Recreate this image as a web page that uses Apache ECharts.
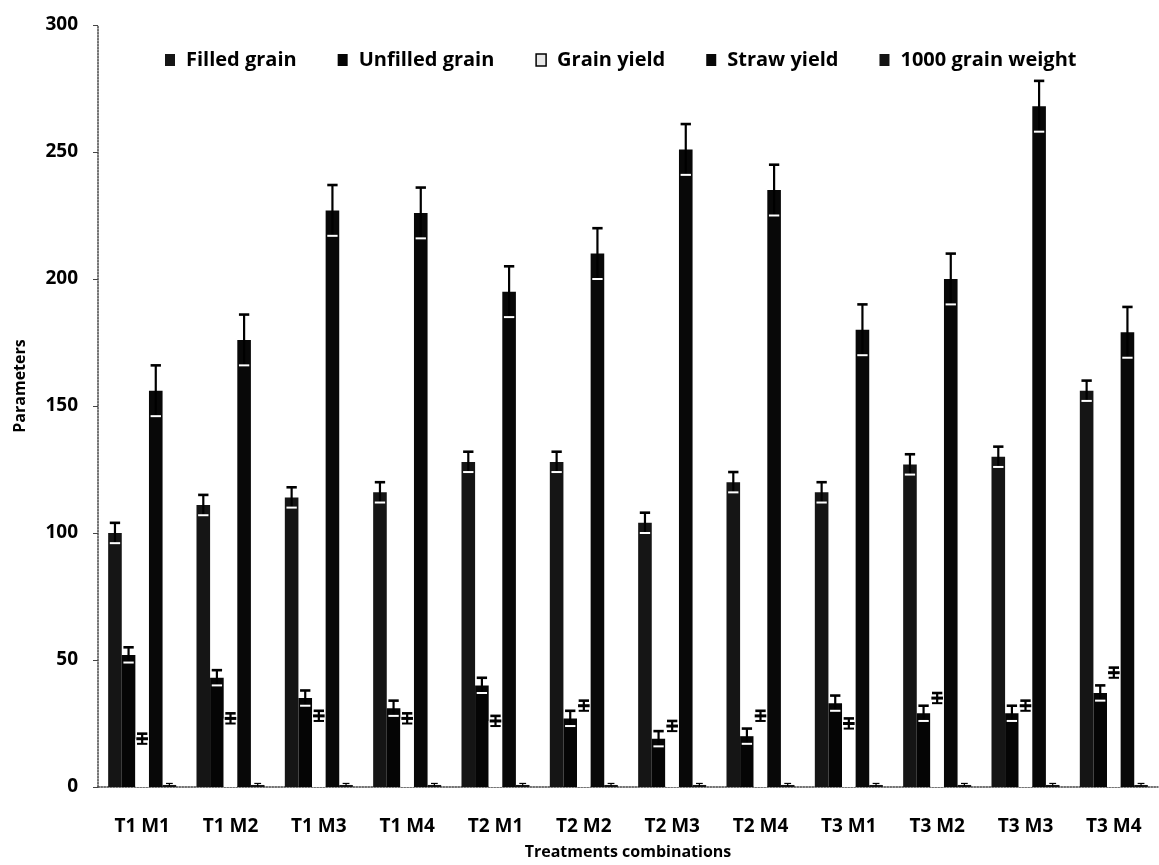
<!DOCTYPE html>
<html>
<head>
<meta charset="utf-8">
<script src="https://cdn.jsdelivr.net/npm/echarts@6/dist/echarts.min.js"></script>
<style>
html,body{margin:0;padding:0;background:#fff;}
#chart{width:1159px;height:865px;}
</style>
</head>
<body>
<div id="chart"></div>
<script>
const categories = ['T1 M1','T1 M2','T1 M3','T1 M4','T2 M1','T2 M2','T2 M3','T2 M4','T3 M1','T3 M2','T3 M3','T3 M4'];
const seriesNames = ['Filled grain','Unfilled grain','Grain yield','Straw yield','1000 grain weight'];
const filledGrain   = [100, 111, 114, 116, 128, 128, 104, 120, 116, 127, 130, 156];
const unfilledGrain = [52, 43, 35, 31, 40, 27, 19, 20, 33, 29, 29, 37];
const grainYield    = [19, 27, 28, 27, 26, 32, 24, 28, 25, 35, 32, 45];
const strawYield    = [156, 176, 227, 226, 195, 210, 251, 235, 180, 200, 268, 179];
const grainWeight   = [0.8, 0.8, 0.8, 0.8, 0.8, 0.8, 0.8, 0.8, 0.8, 0.8, 0.8, 0.8];
const filledErr   = [4, 4, 4, 4, 4, 4, 4, 4, 4, 4, 4, 4];
const unfilledErr = [3, 3, 3, 3, 3, 3, 3, 3, 3, 3, 3, 3];
const yieldErr    = [2, 2, 2, 2, 2, 2, 2, 2, 2, 2, 2, 2];
const strawErr    = [10, 10, 10, 10, 10, 10, 10, 10, 10, 10, 10, 10];
const weightErr   = [0.6, 0.6, 0.6, 0.6, 0.6, 0.6, 0.6, 0.6, 0.6, 0.6, 0.6, 0.6];
const yTicks = [0, 50, 100, 150, 200, 250, 300];

const values = [filledGrain, unfilledGrain, grainYield, strawYield, grainWeight];
const errors = [filledErr, unfilledErr, yieldErr, strawErr, weightErr];
const colors = ['#151515', '#050505', '#ffffff', '#080808', '#151515'];
const GAP = 0.23;
const N = values.length;
const FONT = 'Open Sans';

function errRender(si) {
  return function (params, api) {
    const ci = api.value(0), v = api.value(1), e = api.value(2);
    const band = api.size([1, 0])[0];
    const groupW = band * (1 - GAP);
    const bw = groupW / N;
    const center = api.coord([ci, v])[0];
    const x = center - groupW / 2 + bw * (si + 0.5);
    const yv = api.coord([ci, v])[1];
    const yt = api.coord([ci, v + e])[1];
    const yb = api.coord([ci, Math.max(v - e, 0)])[1];
    const hw = si === 4 ? bw * 0.25 : bw * 0.38;
    const lw = si === 4 ? 1.2 : 2.2;
    const ch = [
      { type: 'line', shape: { x1: x, y1: yt, x2: x, y2: yb }, style: { stroke: '#000', lineWidth: lw } },
      { type: 'line', shape: { x1: x - hw, y1: yt, x2: x + hw, y2: yt }, style: { stroke: '#000', lineWidth: si === 4 ? 1.2 : 2.6 } }
    ];
    if (si !== 4) {
      ch.push({ type: 'line', shape: { x1: x - hw, y1: yb, x2: x + hw, y2: yb }, style: { stroke: si === 2 ? '#000' : '#fff', lineWidth: 2 } });
    }
    if (si === 2) {
      ch.push({ type: 'line', shape: { x1: x - bw / 2 + 1, y1: yv, x2: x + bw / 2 - 1, y2: yv }, style: { stroke: '#000', lineWidth: 3 } });
    }
    return { type: 'group', children: ch };
  };
}

const series = [];
values.forEach((arr, i) => {
  series.push({
    name: seriesNames[i],
    type: 'bar',
    data: arr,
    barGap: '0%',
    barCategoryGap: (GAP * 100) + '%',
    itemStyle: { color: colors[i] },
    emphasis: { disabled: true },
    z: 2
  });
});
values.forEach((arr, i) => {
  series.push({
    type: 'custom',
    name: seriesNames[i] + ' err',
    renderItem: errRender(i),
    data: arr.map((v, k) => [k, v, errors[i][k]]),
    z: 5,
    silent: true,
    tooltip: { show: false }
  });
});

const chart = echarts.init(document.getElementById('chart'), null, { renderer: 'canvas' });
chart.setOption({
  animation: false,
  backgroundColor: '#fff',
  textStyle: { fontFamily: FONT, fontWeight: 'bold', color: '#000' },
  legend: {
    data: seriesNames.map((n, i) => i === 2
      ? { name: n, itemStyle: { color: '#e8e8e8', borderColor: '#000', borderWidth: 1.5 } }
      : { name: n }),
    left: 160,
    top: 45,
    icon: 'rect',
    itemWidth: 10,
    itemHeight: 12,
    itemGap: 41,
    textStyle: { fontFamily: FONT, fontWeight: 'bold', fontSize: 20, color: '#000', padding: [0, 0, 0, 6] }
  },
  grid: { left: 98, right: 1, top: 25, bottom: 78, containLabel: false },
  xAxis: {
    type: 'category',
    data: categories,
    name: 'Treatments combinations',
    nameLocation: 'middle',
    nameGap: 57,
    nameTextStyle: { fontFamily: FONT, fontWeight: 'bold', fontSize: 16, color: '#000' },
    axisLine: { show: true, lineStyle: { color: '#444', type: 'dotted', width: 1.5 } },
    axisTick: { show: false },
    axisLabel: { fontFamily: FONT, fontWeight: 'bold', fontSize: 19, color: '#000', margin: 30, interval: 0 }
  },
  yAxis: {
    type: 'value',
    min: yTicks[0],
    max: yTicks[yTicks.length - 1],
    interval: yTicks[1] - yTicks[0],
    name: 'Parameters',
    nameLocation: 'middle',
    nameGap: 70,
    nameRotate: 90,
    nameTextStyle: { fontFamily: FONT, fontWeight: 'bold', fontSize: 16, color: '#000', padding: [0, 0, 0, 40] },
    splitLine: { show: false },
    axisLine: { show: true, lineStyle: { color: '#444', type: 'dotted', width: 1.5 } },
    axisTick: { show: true, length: 5, lineStyle: { color: '#444' } },
    axisLabel: { fontFamily: FONT, fontWeight: 'bold', fontSize: 19, color: '#000', margin: 20 }
  },
  series: series
});
</script>
</body>
</html>
